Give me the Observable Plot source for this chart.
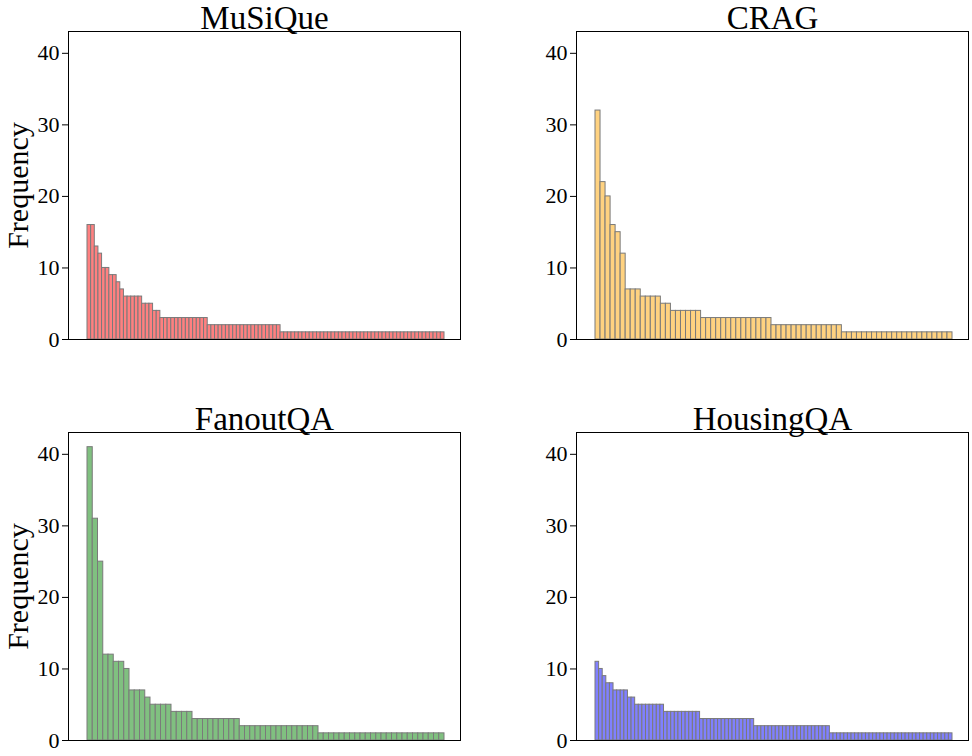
<!DOCTYPE html>
<html>
<head>
<meta charset="utf-8">
<script src="https://cdn.jsdelivr.net/npm/d3@7"></script>
<script src="https://cdn.jsdelivr.net/npm/@observablehq/plot@0.6"></script>
<style>
  html, body { margin: 0; padding: 0; background: #fff; overflow: hidden; }
  #root { position: relative; width: 972px; height: 756px; overflow: hidden; }
  .panel { position: absolute; }
</style>
</head>
<body>
<div id="root"></div>
<script>
const titles = ["MuSiQue", "CRAG", "FanoutQA", "HousingQA"];
const colors = ["#FF8080", "#FFD280", "#80C080", "#8080FF"];
const yTicks = [0, 10, 20, 30, 40];

const musique = [16,16,13,12,10,10,9,9,8,7,6,6,6,6,6,5,5,5,4,4,
  3,3,3,3,3,3,3,3,3,3,3,3,3,
  2,2,2,2,2,2,2,2,2,2,2,2,2,2,2,2,2,2,2,2,
  1,1,1,1,1,1,1,1,1,1,1,1,1,1,1,1,1,1,1,1,1,1,1,1,1,1,1,1,1,1,1,1,1,1,1,1,1,1,1,1,1,1,1,1,1];
const crag = [32,22,20,16,15,12,7,7,7,6,6,6,6,5,5,4,4,4,4,4,4,
  3,3,3,3,3,3,3,3,3,3,3,3,3,3,
  2,2,2,2,2,2,2,2,2,2,2,2,2,2,
  1,1,1,1,1,1,1,1,1,1,1,1,1,1,1,1,1,1,1,1,1,1];
const fanoutqa = [41,31,25,12,12,11,11,10,7,7,7,6,5,5,5,5,4,4,4,4,
  3,3,3,3,3,3,3,3,3,
  2,2,2,2,2,2,2,2,2,2,2,2,2,2,2,
  1,1,1,1,1,1,1,1,1,1,1,1,1,1,1,1,1,1,1,1,1,1,1,1];
const housingqa = [11,10,9,8,8,7,7,7,7,6,6,
  5,5,5,5,5,5,5,5,
  4,4,4,4,4,4,4,4,4,4,
  3,3,3,3,3,3,3,3,3,3,3,3,3,3,3,
  2,2,2,2,2,2,2,2,2,2,2,2,2,2,2,2,2,2,2,2,2,
  1,1,1,1,1,1,1,1,1,1,1,1,1,1,1,1,1,1,1,1,1,1,1,1,1,1,1,1,1,1,1,1,1,1];

const series = [musique, crag, fanoutqa, housingqa];
const positions = [[0, 0], [508, 0], [0, 401], [508, 401]];
const font = "'Liberation Serif', 'DejaVu Serif', serif";

const root = document.getElementById("root");
series.forEach((vals, k) => {
  const data = vals.map((v, i) => ({i, v}));
  const marks = [
    Plot.barY(data, {x: "i", y: "v", fill: colors[k], stroke: "#7a7a7a", strokeWidth: 1, inset: 0}),
    Plot.frame({stroke: "#000", strokeWidth: 1}),
    Plot.axisY({ticks: yTicks, tickSize: 6, tickPadding: 3, label: null, fontSize: 22}),
    Plot.text([titles[k]], {frameAnchor: "top", lineAnchor: "middle", dy: -13, fontSize: 33, fill: "#000"})
  ];
  if (k % 2 === 0) {
    marks.push(Plot.text(["Frequency"], {frameAnchor: "left", textAnchor: "middle", lineAnchor: "middle", dx: -50, rotate: -90, fontSize: 30, fill: "#000"}));
  }
  const chart = Plot.plot({
    width: 462,
    height: 350,
    marginLeft: 68,
    marginRight: 2,
    marginTop: 31,
    marginBottom: 11,
    style: {fontFamily: font, fontSize: "22px", background: "#fff", color: "#000", overflow: "visible"},
    x: {type: "band", domain: data.map(d => d.i), padding: 0, round: false, axis: null, insetLeft: 19, insetRight: 16},
    y: {domain: [0, 43.05], axis: null},
    marks
  });
  const div = document.createElement("div");
  div.className = "panel";
  div.style.left = positions[k][0] + "px";
  div.style.top = positions[k][1] + "px";
  div.appendChild(chart);
  root.appendChild(div);
});
</script>
</body>
</html>
